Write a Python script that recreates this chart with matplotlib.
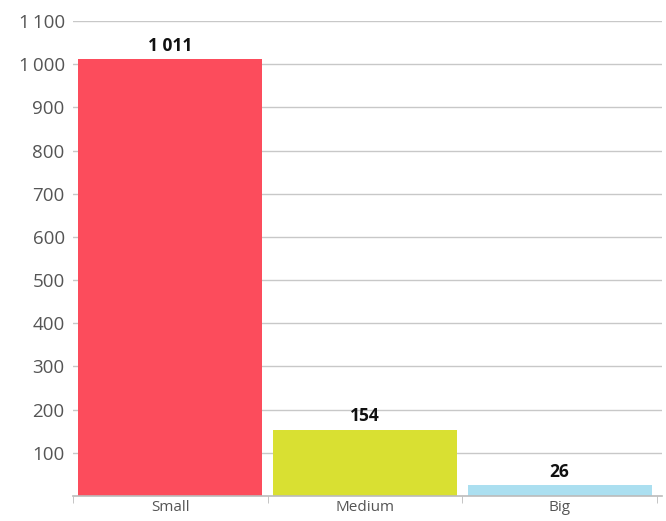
import matplotlib
matplotlib.use("Agg")
import matplotlib.pyplot as plt

categories = ["Small", "Medium", "Big"]
values = [1011, 154, 26]
labels = ["1 011", "154", "26"]
colors = ["#FC4C5C", "#D9E032", "#ABDFF0"]
yticks = [100, 200, 300, 400, 500, 600, 700, 800, 900, 1000, 1100]
ytick_labels = ["100", "200", "300", "400", "500", "600", "700", "800", "900", "1\u2009000", "1\u2009100"]

plt.rcParams['font.family'] = ['Open Sans', 'DejaVu Sans']

W, H = 666, 521
fig = plt.figure(figsize=(W / 100, H / 100), dpi=100)
ax = fig.add_axes([73 / W, 1 - 496 / H, (662 - 73) / W, (496 - 21) / H])

x = list(range(len(categories)))
ax.bar(x, values, width=0.945, color=colors, zorder=2)
for xi, v, lab in zip(x, values, labels):
    ax.annotate(lab, (xi, v), xytext=(0, 3), textcoords="offset points",
                ha="center", va="bottom", fontsize=12.5, fontweight="bold", color="#111111")

ax.set_xlim(-0.5, 2.526)
ax.set_ylim(0, 1100)
ax.set_yticks(yticks)
ax.set_yticklabels(ytick_labels, fontsize=13.5, color="#555555")
ax.yaxis.grid(True, color="#C8C8C8", linewidth=1, zorder=0)
ax.tick_params(axis="y", length=0, pad=6)

ax.set_xticks(x)
ax.set_xticklabels(categories, fontsize=11, color="#555555")
ax.set_xticks([-0.5, 0.5, 1.5, 2.5], minor=True)
ax.tick_params(axis="x", which="major", length=0, pad=3)
ax.tick_params(axis="x", which="minor", length=5, color="#BBBBBB", direction="out")

for s in ["top", "right", "left"]:
    ax.spines[s].set_visible(False)
ax.spines["bottom"].set_color("#BBBBBB")
ax.spines["bottom"].set_linewidth(1.2)

fig.savefig("out.png", dpi=100)
